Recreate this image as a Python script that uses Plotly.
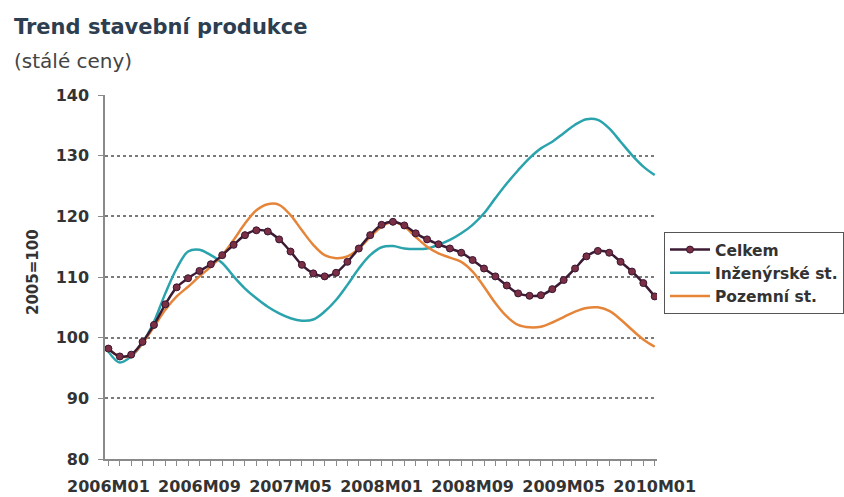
import plotly.graph_objects as go

# month labels 2006M01 .. 2010M01
months = [f"{2006 + i // 12}M{i % 12 + 1:02d}" for i in range(49)]

celkem = [98.2, 96.9, 97.2, 99.3, 102.1, 105.5, 108.3, 109.8, 111.0, 112.1,
          113.6, 115.3, 116.9, 117.7, 117.5, 116.2, 114.2, 112.0, 110.6, 110.1,
          110.7, 112.5, 114.7, 116.9, 118.6, 119.1, 118.5, 117.2, 116.2, 115.4,
          114.7, 114.0, 112.8, 111.4, 110.1, 108.6, 107.3, 106.9, 107.0, 108.0,
          109.5, 111.4, 113.4, 114.3, 114.0, 112.5, 110.9, 109.0, 106.8]

inzenyrske = [97.7, 95.9, 96.9, 99.1, 102.6, 107.3, 111.4, 114.2, 114.5, 113.6,
              112.3, 110.1, 108.1, 106.5, 105.1, 104.0, 103.2, 102.8, 103.0, 104.3,
              106.2, 108.7, 111.4, 113.6, 114.9, 115.1, 114.7, 114.6, 114.7, 115.3,
              116.1, 117.2, 118.6, 120.5, 123.0, 125.4, 127.6, 129.6, 131.2, 132.3,
              133.7, 135.1, 136.0, 135.9, 134.5, 132.3, 130.1, 128.2, 126.8]

pozemni = [98.2, 96.9, 97.1, 99.1, 101.8, 104.6, 106.8, 108.4, 110.1, 111.7,
           113.6, 116.1, 118.8, 121.0, 122.0, 121.9, 120.2, 117.7, 115.3, 113.6,
           113.1, 113.4, 114.7, 116.6, 118.3, 119.1, 118.3, 116.6, 115.0, 113.9,
           113.2, 112.5, 110.9, 108.4, 105.7, 103.5, 102.1, 101.7, 101.8, 102.5,
           103.4, 104.3, 104.9, 105.0, 104.4, 103.0, 101.3, 99.7, 98.5]

x = list(range(len(months)))
tick_step = 8
tickvals = x[::tick_step]
ticktext = months[::tick_step]

FONT = "DejaVu Sans"
TXT = "#333333"

fig = go.Figure()
fig.add_trace(go.Scatter(
    x=x, y=inzenyrske, name="Inženýrské st.", mode="lines",
    line=dict(color="#2aa3ad", width=2.5, shape="spline"), legendrank=2))
fig.add_trace(go.Scatter(
    x=x, y=pozemni, name="Pozemní st.", mode="lines",
    line=dict(color="#e5853a", width=2.5, shape="spline"), legendrank=3))
fig.add_trace(go.Scatter(
    x=x, y=celkem, name="Celkem", mode="lines+markers",
    line=dict(color="#3b1a33", width=2.5, shape="spline"),
    marker=dict(symbol="circle", size=7, color="#7a2f45",
                line=dict(color="#3a1530", width=1)),
    legendrank=1))

L, R, T, B = 105, 187, 95, 38
W, H = 844, 497
pw, ph = W - L - R, H - T - B

def px(xp):
    return (xp - L) / pw

def py(yp):
    return (H - B - yp) / ph

fig.update_layout(
    width=W, height=H,
    margin=dict(l=L, r=R, t=T, b=B, autoexpand=False),
    paper_bgcolor="white", plot_bgcolor="white",
    font=dict(family=FONT, color=TXT),
    showlegend=True,
    legend=dict(x=px(664), y=py(232), xanchor="left", yanchor="top",
                bordercolor="#555555", borderwidth=1, bgcolor="white",
                font=dict(family=FONT, size=15.5, color=TXT, weight="bold"),
                itemwidth=40, tracegroupgap=4),
    annotations=[
        dict(text="Trend stavební produkce", xref="paper", yref="paper",
             x=px(12), y=py(27), xanchor="left", yanchor="middle", showarrow=False,
             font=dict(family=FONT, size=21, color="#2c3e50", weight="bold")),
        dict(text="(stálé ceny)", xref="paper", yref="paper",
             x=px(12), y=py(61), xanchor="left", yanchor="middle", showarrow=False,
             font=dict(family=FONT, size=20, color="#444444")),
        dict(text="2005=100", xref="paper", yref="paper", textangle=-90,
             x=px(33), y=py(272), xanchor="center", yanchor="middle", showarrow=False,
             font=dict(family=FONT, size=15, color=TXT, weight="bold")),
    ],
)

fig.update_xaxes(
    range=[-0.3, 48.2], tickvals=tickvals, ticktext=ticktext,
    automargin=False,
    showline=True, linecolor="#8a8a8a", linewidth=1.5,
    ticks="outside", ticklen=5, tickcolor="#8a8a8a", tickwidth=1,
    minor=dict(dtick=1, tick0=0, ticks="outside", ticklen=5, tickcolor="#8a8a8a", tickwidth=1, showgrid=False),
    showgrid=False, zeroline=False,
    ticklabelstandoff=7,
    tickfont=dict(family=FONT, size=16, color=TXT, weight="bold"),
)
fig.update_yaxes(
    range=[80, 140], dtick=10,
    automargin=False,
    showline=True, linecolor="#8a8a8a", linewidth=1.5,
    ticks="outside", ticklen=5, tickcolor="#8a8a8a", tickwidth=1,
    showgrid=True, gridcolor="#7a7a7a", gridwidth=1.5, griddash="dot",
    zeroline=False,
    ticklabelstandoff=6,
    tickfont=dict(family=FONT, size=16, color=TXT, weight="bold"),
)

fig.write_html("out.html")
